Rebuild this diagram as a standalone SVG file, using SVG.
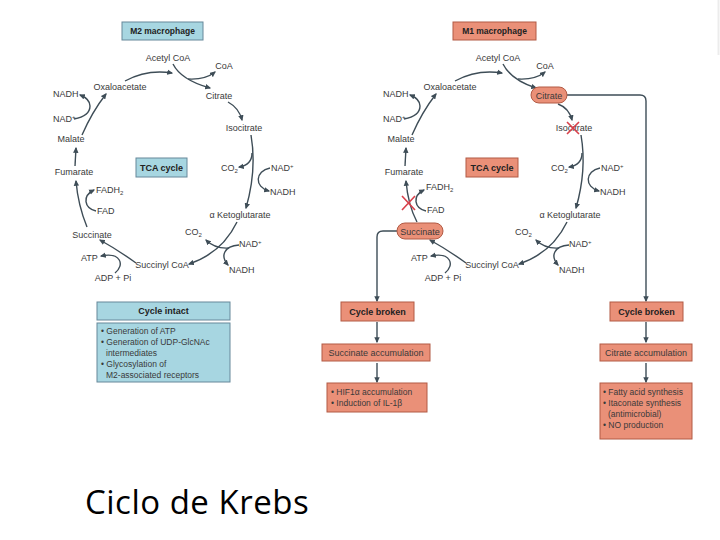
<svg xmlns="http://www.w3.org/2000/svg" width="720" height="540" viewBox="0 0 720 540">
<defs>
<style>
.t{font-family:"Liberation Sans",Arial,sans-serif;font-size:9px;fill:#3a3a3a;text-anchor:middle}
.s{text-anchor:start}
.b{font-weight:bold;fill:#222}
.sm{font-size:8.5px}
.c{fill:none;stroke:#3e4d57;stroke-width:1.4;marker-end:url(#ah)}
.blue{fill:#a7d6e1;stroke:#66889a;stroke-width:1}
.sal{fill:#ea9078;stroke:#b25a44;stroke-width:1}
.x{stroke:#d8404a;stroke-width:1.6;fill:none}
</style>
<marker id="ah" viewBox="0 0 10 10" refX="8" refY="5" markerWidth="6" markerHeight="6" markerUnits="userSpaceOnUse" orient="auto"><path d="M0,0.5 L10,5 L0,9.5 z" fill="#3e4d57"/></marker>
</defs>
<rect width="720" height="540" fill="#fff"/>
<line x1="718.5" y1="0" x2="718.5" y2="55" stroke="#ececec" stroke-width="2"/>

<!-- connectors -->
<g id="connectors">
 <g id="conn-m2">
  <path class="c" d="M125,81 Q147,69 172,73"/>
  <path class="c" d="M173,64 Q181,80 210,88"/>
  <path class="c" d="M188,79 Q205,80 215,72"/>
  <path class="c" d="M228,102 Q239,108 242,120"/>
  <path class="c" d="M251,135 Q257,170 246,208"/>
  <path class="c" d="M252,153 Q252,165 239,167"/>
  <path class="c" d="M270,168 C255,171 254,187 269,191"/>
  <path class="c" d="M237,222 Q222,253 189,264"/>
  <path class="c" d="M229,248 Q215,249 206,240"/>
  <path class="c" d="M239,245 C224,246 220,256 228,265"/>
  <path class="c" d="M136,263 Q118,250 100,240"/>
  <path class="c" d="M115,273 C125,265 121,252 101,256"/>
  <path class="c" d="M87,227 Q78,205 76,181"/>
  <path class="c" d="M96,211 C84,208 82,196 94,190"/>
  <path class="c" d="M75,166 L76,148"/>
  <path class="c" d="M82,135 Q92,112 106,94"/>
  <path class="c" d="M74,119 Q90,116 90,106 Q90,99 80,95"/>
 </g>
 <g id="conn-m1" transform="translate(330,0)">
  <path class="c" d="M125,81 Q147,69 172,73"/>
  <path class="c" d="M173,64 Q181,80 206,88"/>
  <path class="c" d="M188,79 Q205,80 215,72"/>
  <path class="c" d="M228,104 Q239,108 242,120"/>
  <path class="c" d="M251,135 Q257,170 246,208"/>
  <path class="c" d="M252,153 Q252,165 239,167"/>
  <path class="c" d="M270,168 C255,171 254,187 269,191"/>
  <path class="c" d="M237,222 Q222,253 189,264"/>
  <path class="c" d="M229,248 Q215,249 206,240"/>
  <path class="c" d="M239,245 C224,246 220,256 228,265"/>
  <path class="c" d="M136,263 Q118,250 100,240"/>
  <path class="c" d="M115,273 C125,265 121,252 101,256"/>
  <path class="c" d="M87,222 Q78,205 76,181"/>
  <path class="c" d="M96,211 C84,208 82,196 94,190"/>
  <path class="c" d="M75,166 L76,148"/>
  <path class="c" d="M82,135 Q92,112 106,94"/>
  <path class="c" d="M74,119 Q90,116 90,106 Q90,99 80,95"/>
 </g>
 <path class="c" d="M567,95 H640 Q646,95 646,101 V301"/>
 <path class="c" d="M397,231 H383 Q377,231 377,237 V301"/>
 <path class="c" d="M377,322 V342"/>
 <path class="c" d="M377,363 V382"/>
 <path class="c" d="M646,322 V342"/>
 <path class="c" d="M646,363 V382"/>
</g>

<!-- M2 panel -->
<g id="m2-title"><rect class="blue" x="122" y="22" width="81" height="18"/><text class="t b sm" x="162.5" y="34">M2 macrophage</text></g>
<g id="m2-tca"><rect class="blue" x="136" y="158" width="51" height="19"/><text class="t b" x="161.5" y="171">TCA cycle</text></g>
<g id="m2-labels">
 <g id="m2-acetylcoa"><text class="t" x="168" y="61">Acetyl CoA</text></g>
 <g id="m2-coa"><text class="t" x="224" y="69">CoA</text></g>
 <g id="m2-oxaloacetate"><text class="t" x="120" y="90">Oxaloacetate</text></g>
 <g id="m2-nadh1"><text class="t s" x="53" y="97">NADH</text></g>
 <g id="m2-citrate"><text class="t" x="219" y="99">Citrate</text></g>
 <g id="m2-nad1"><text class="t s" x="53" y="122">NAD<tspan font-size="6" dy="-3">+</tspan></text></g>
 <g id="m2-isocitrate"><text class="t" x="244" y="131">Isocitrate</text></g>
 <g id="m2-malate"><text class="t" x="71" y="142">Malate</text></g>
 <g id="m2-fumarate"><text class="t" x="74" y="175">Fumarate</text></g>
 <g id="m2-co2a"><text class="t s" x="221" y="171">CO<tspan font-size="6" dy="2">2</tspan></text></g>
 <g id="m2-nad2"><text class="t s" x="271" y="171">NAD<tspan font-size="6" dy="-3">+</tspan></text></g>
 <g id="m2-nadh2"><text class="t s" x="270" y="195">NADH</text></g>
 <g id="m2-fadh2"><text class="t s" x="96" y="193">FADH<tspan font-size="6" dy="2">2</tspan></text></g>
 <g id="m2-fad"><text class="t s" x="97" y="214">FAD</text></g>
 <g id="m2-akg"><text class="t" x="240" y="218">α Ketoglutarate</text></g>
 <g id="m2-co2b"><text class="t s" x="185" y="235">CO<tspan font-size="6" dy="2">2</tspan></text></g>
 <g id="m2-succinate"><text class="t" x="92" y="238">Succinate</text></g>
 <g id="m2-nad3"><text class="t s" x="239" y="247">NAD<tspan font-size="6" dy="-3">+</tspan></text></g>
 <g id="m2-atp"><text class="t s" x="81" y="261">ATP</text></g>
 <g id="m2-succinylcoa"><text class="t" x="162" y="268">Succinyl CoA</text></g>
 <g id="m2-nadh3"><text class="t s" x="229" y="273">NADH</text></g>
 <g id="m2-adp"><text class="t" x="113" y="281">ADP + Pi</text></g>
</g>
<g id="cycle-intact">
 <rect class="blue" x="97" y="302" width="133" height="18"/>
 <text class="t b" x="163.5" y="314">Cycle intact</text>
</g>
<g id="m2-outcomes">
 <rect class="blue" x="97" y="323" width="133" height="59"/>
 <text class="t s sm" x="101" y="334">• Generation of ATP</text>
 <text class="t s sm" x="101" y="345">• Generation of UDP-GlcNAc</text>
 <text class="t s sm" x="106" y="356">intermediates</text>
 <text class="t s sm" x="101" y="367">• Glycosylation of</text>
 <text class="t s sm" x="106" y="378">M2-associated receptors</text>
</g>

<!-- M1 panel -->
<g id="m1-title"><rect class="sal" x="453" y="22" width="83" height="18"/><text class="t b sm" x="494.5" y="34">M1 macrophage</text></g>
<g id="m1-tca"><rect class="sal" x="466" y="158" width="52" height="19"/><text class="t b" x="492" y="171">TCA cycle</text></g>
<g id="m1-labels" transform="translate(330,0)">
 <g id="m1-acetylcoa"><text class="t" x="168" y="61">Acetyl CoA</text></g>
 <g id="m1-coa"><text class="t" x="215" y="69">CoA</text></g>
 <g id="m1-oxaloacetate"><text class="t" x="120" y="90">Oxaloacetate</text></g>
 <g id="m1-nadh1"><text class="t s" x="53" y="97">NADH</text></g>
 <g id="m1-citrate"><rect class="sal" x="201" y="87" width="36" height="16" rx="8"/><text class="t" x="219" y="98.5">Citrate</text></g>
 <g id="m1-nad1"><text class="t s" x="53" y="122">NAD<tspan font-size="6" dy="-3">+</tspan></text></g>
 <g id="m1-isocitrate"><text class="t" x="244" y="131">Isocitrate</text><path class="x" d="M237,122 L249,134 M249,122 L237,134"/></g>
 <g id="m1-malate"><text class="t" x="71" y="142">Malate</text></g>
 <g id="m1-fumarate"><text class="t" x="74" y="175">Fumarate</text></g>
 <g id="m1-co2a"><text class="t s" x="221" y="171">CO<tspan font-size="6" dy="2">2</tspan></text></g>
 <g id="m1-nad2"><text class="t s" x="271" y="171">NAD<tspan font-size="6" dy="-3">+</tspan></text></g>
 <g id="m1-nadh2"><text class="t s" x="270" y="195">NADH</text></g>
 <g id="m1-fadh2"><text class="t s" x="96" y="190">FADH<tspan font-size="6" dy="2">2</tspan></text></g>
 <g id="m1-fad"><text class="t s" x="97" y="213">FAD</text></g>
 <g id="m1-block"><path class="x" d="M72,196 L85,210 M85,196 L72,210"/></g>
 <g id="m1-akg"><text class="t" x="240" y="218">α Ketoglutarate</text></g>
 <g id="m1-co2b"><text class="t s" x="185" y="235">CO<tspan font-size="6" dy="2">2</tspan></text></g>
 <g id="m1-succinate"><rect class="sal" x="67" y="223" width="46" height="16" rx="8"/><text class="t" x="90" y="234.5">Succinate</text></g>
 <g id="m1-nad3"><text class="t s" x="239" y="247">NAD<tspan font-size="6" dy="-3">+</tspan></text></g>
 <g id="m1-atp"><text class="t s" x="81" y="261">ATP</text></g>
 <g id="m1-succinylcoa"><text class="t" x="162" y="268">Succinyl CoA</text></g>
 <g id="m1-nadh3"><text class="t s" x="229" y="273">NADH</text></g>
 <g id="m1-adp"><text class="t" x="113" y="281">ADP + Pi</text></g>
</g>
<g id="broken-succ"><rect class="sal" x="341" y="302" width="73" height="19"/><text class="t b" x="377.5" y="315">Cycle broken</text></g>
<g id="succ-accum"><rect class="sal" x="322" y="344" width="108" height="17"/><text class="t" x="376" y="356">Succinate accumulation</text></g>
<g id="succ-outcomes">
 <rect class="sal" x="327" y="383" width="100" height="29"/>
 <text class="t s sm" x="331" y="395">• HIF1α accumulation</text>
 <text class="t s sm" x="331" y="406">• Induction of IL-1β</text>
</g>
<g id="broken-cit"><rect class="sal" x="610" y="302" width="73" height="19"/><text class="t b" x="646.5" y="315">Cycle broken</text></g>
<g id="cit-accum"><rect class="sal" x="600" y="344" width="92" height="17"/><text class="t" x="646" y="356">Citrate accumulation</text></g>
<g id="cit-outcomes">
 <rect class="sal" x="600" y="383" width="92" height="56"/>
 <text class="t s sm" x="603" y="395">• Fatty acid synthesis</text>
 <text class="t s sm" x="603" y="406">• Itaconate synthesis</text>
 <text class="t s sm" x="608" y="417">(antimicrobial)</text>
 <text class="t s sm" x="603" y="428">• NO production</text>
</g>

<g id="title"><text x="85" y="514" font-family="'Open Sans','Noto Sans',sans-serif" font-size="33" letter-spacing="0.5" fill="#000">Ciclo de Krebs</text></g>
</svg>
